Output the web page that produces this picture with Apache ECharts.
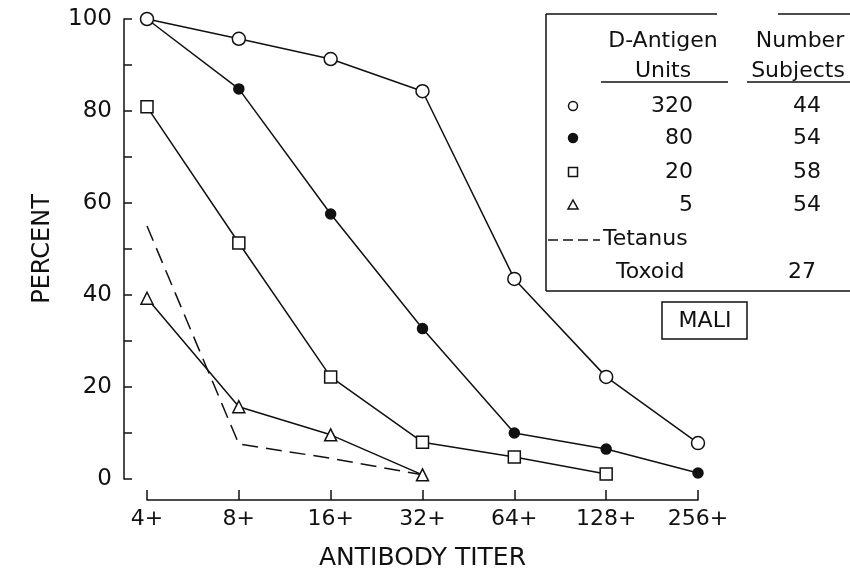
<!DOCTYPE html>
<html>
<head>
<meta charset="utf-8">
<script src="https://cdn.jsdelivr.net/npm/echarts@6/dist/echarts.min.js"></script>
<style>
  html, body { margin: 0; padding: 0; background: #fff; }
  #chart { width: 850px; height: 570px; }
</style>
</head>
<body>
<div id="chart"></div>
<script>
// Antibody titer categories
const titers = ['4+', '8+', '16+', '32+', '64+', '128+', '256+'];

// Percent of subjects reaching each titer, by D-antigen dose
const dose320 = [100, 95.7, 91.3, 84.3, 43.5, 22.2, 7.8];
const dose80 = [100, 84.8, 57.6, 32.7, 10.0, 6.5, 1.3];
const dose20 = [80.9, 51.3, 22.2, 8.0, 4.8, 1.1, '-'];
const dose5 = [39.3, 15.7, 9.6, 0.9, '-', '-', '-'];
const tetanus = [55, 7.6, 4.5, 0.9, '-', '-', '-'];

// Legend table content
const legendUnits = ['320', '80', '20', '5'];
const legendSubjects = ['44', '54', '58', '54'];
const tetanusSubjects = '27';

const FONT = 'DejaVu Sans';
const INK = '#111';

const chart = echarts.init(document.getElementById('chart'));

function markerSeries(name, data, symbol, size, filled, z) {
  return {
    name: name,
    type: 'line',
    data: data,
    symbol: symbol,
    symbolSize: size,
    showAllSymbol: true,
    lineStyle: { color: INK, width: 1.5 },
    itemStyle: {
      color: filled ? INK : '#fff',
      borderColor: INK,
      borderWidth: 1.5
    },
    z: z
  };
}

// Legend table drawn as graphic elements
const rowY = [106, 138, 172, 205];
const legendSymbols = ['circle', 'circle', 'rect', 'triangle'];
const legendGraphics = [];
const lineStyleG = { stroke: INK, lineWidth: 1.5 };
legendGraphics.push(
  { type: 'line', shape: { x1: 546, y1: 14, x2: 546, y2: 291 }, style: lineStyleG },
  { type: 'line', shape: { x1: 546, y1: 291, x2: 852, y2: 291 }, style: lineStyleG },
  { type: 'line', shape: { x1: 546, y1: 14, x2: 717, y2: 14 }, style: lineStyleG },
  { type: 'line', shape: { x1: 778, y1: 14, x2: 852, y2: 14 }, style: lineStyleG },
  { type: 'line', shape: { x1: 601, y1: 82, x2: 728, y2: 82 }, style: lineStyleG },
  { type: 'line', shape: { x1: 747, y1: 82, x2: 852, y2: 82 }, style: lineStyleG },
  { type: 'text', style: { x: 663, y: 41, text: 'D-Antigen', font: '22px ' + FONT, fill: INK, align: 'center', verticalAlign: 'middle' } },
  { type: 'text', style: { x: 663, y: 71, text: 'Units', font: '22px ' + FONT, fill: INK, align: 'center', verticalAlign: 'middle' } },
  { type: 'text', style: { x: 800, y: 41, text: 'Number', font: '22px ' + FONT, fill: INK, align: 'center', verticalAlign: 'middle' } },
  { type: 'text', style: { x: 798, y: 71, text: 'Subjects', font: '22px ' + FONT, fill: INK, align: 'center', verticalAlign: 'middle' } }
);
legendUnits.forEach(function (u, i) {
  const filled = i === 1;
  const sym = legendSymbols[i];
  let shapeEl;
  if (sym === 'circle') {
    shapeEl = { type: 'circle', shape: { cx: 573, cy: rowY[i], r: 4.5 },
      style: { fill: filled ? INK : '#fff', stroke: INK, lineWidth: 1.5 } };
  } else if (sym === 'rect') {
    shapeEl = { type: 'rect', shape: { x: 568.5, y: rowY[i] - 4.5, width: 9, height: 9 },
      style: { fill: '#fff', stroke: INK, lineWidth: 1.5 } };
  } else {
    shapeEl = { type: 'polygon', shape: { points: [[573, rowY[i] - 5], [578, rowY[i] + 4], [568, rowY[i] + 4]] },
      style: { fill: '#fff', stroke: INK, lineWidth: 1.5 } };
  }
  legendGraphics.push(shapeEl);
  legendGraphics.push({ type: 'text', style: { x: 693, y: rowY[i], text: u, font: '22px ' + FONT, fill: INK, align: 'right', verticalAlign: 'middle' } });
  legendGraphics.push({ type: 'text', style: { x: 821, y: rowY[i], text: legendSubjects[i], font: '22px ' + FONT, fill: INK, align: 'right', verticalAlign: 'middle' } });
});
legendGraphics.push(
  { type: 'line', shape: { x1: 548, y1: 240, x2: 600, y2: 240 }, style: { stroke: INK, lineWidth: 1.5, lineDash: [10, 5] } },
  { type: 'text', style: { x: 603, y: 239, text: 'Tetanus', font: '22px ' + FONT, fill: INK, align: 'left', verticalAlign: 'middle' } },
  { type: 'text', style: { x: 616, y: 272, text: 'Toxoid', font: '22px ' + FONT, fill: INK, align: 'left', verticalAlign: 'middle' } },
  { type: 'text', style: { x: 816, y: 272, text: tetanusSubjects, font: '22px ' + FONT, fill: INK, align: 'right', verticalAlign: 'middle' } },
  // Country box
  { type: 'rect', shape: { x: 662, y: 302, width: 85, height: 37 }, style: { fill: 'none', stroke: INK, lineWidth: 1.5 } },
  { type: 'text', style: { x: 705, y: 321, text: 'MALI', font: '22px ' + FONT, fill: INK, align: 'center', verticalAlign: 'middle' } }
);

const option = {
  backgroundColor: '#fff',
  animation: false,
  grid: { left: 147, right: 152, top: 19, bottom: 91, containLabel: false, outerBoundsMode: 'none' },
  xAxis: {
    type: 'category',
    data: titers,
    boundaryGap: false,
    offset: 21,
    name: 'ANTIBODY TITER',
    nameLocation: 'middle',
    nameGap: 46,
    nameTextStyle: { fontFamily: FONT, fontSize: 25, color: INK },
    axisLine: { onZero: false, lineStyle: { color: INK, width: 1.5 } },
    axisTick: { inside: true, length: 10, lineStyle: { color: INK, width: 1.5 } },
    axisLabel: { fontFamily: FONT, fontSize: 22, color: INK, margin: 8 },
    splitLine: { show: false }
  },
  yAxis: {
    type: 'value',
    min: 0,
    max: 100,
    interval: 10,
    offset: 23,
    name: 'PERCENT',
    nameLocation: 'middle',
    nameRotate: 90,
    nameGap: 69,
    nameTextStyle: { fontFamily: FONT, fontSize: 24, color: INK },
    axisLine: { show: true, onZero: false, lineStyle: { color: INK, width: 1.5 } },
    axisTick: { show: true, inside: true, length: 8, lineStyle: { color: INK, width: 1.5 } },
    axisLabel: {
      fontFamily: FONT, fontSize: 23, color: INK, margin: 12,
      formatter: function (v) { return v % 20 === 0 ? String(v) : ''; }
    },
    splitLine: { show: false }
  },
  series: [
    {
      name: 'Tetanus Toxoid',
      type: 'line',
      data: tetanus,
      symbol: 'none',
      lineStyle: { color: INK, width: 1.5, type: [16, 8] },
      z: 2
    },
    markerSeries('80', dose80, 'circle', 10, true, 3),
    markerSeries('20', dose20, 'rect', 12, false, 3),
    markerSeries('5', dose5, 'triangle', 12, false, 3),
    // the 320-unit series is drawn last so its open circle sits on top at 4+
    markerSeries('320', dose320, 'circle', 13, false, 4)
  ],
  graphic: legendGraphics
};

chart.setOption(option);
</script>
</body>
</html>
